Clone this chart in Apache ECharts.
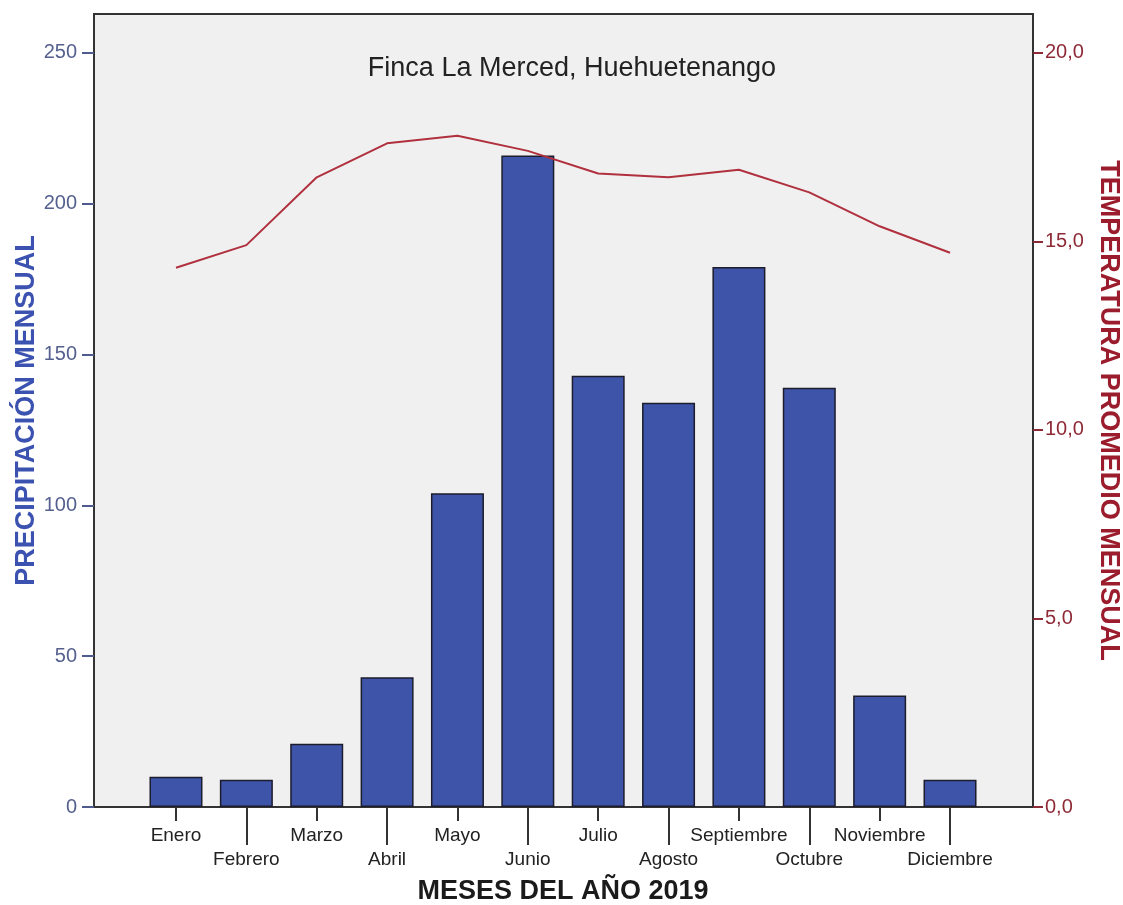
<!DOCTYPE html>
<html>
<head>
<meta charset="utf-8">
<script src="https://cdn.jsdelivr.net/npm/echarts@6/dist/echarts.min.js"></script>
<style>
html,body{margin:0;padding:0;background:#fff;}
#chart{width:1123px;height:905px;}
</style>
</head>
<body>
<div id="chart"></div>
<script>
const months = ['Enero','Febrero','Marzo','Abril','Mayo','Junio','Julio','Agosto','Septiembre','Octubre','Noviembre','Diciembre'];
const precipitation = [10, 9, 21, 43, 104, 216, 143, 134, 179, 139, 37, 9];
const temperature = [14.3, 14.9, 16.7, 17.6, 17.8, 17.4, 16.8, 16.7, 16.9, 16.3, 15.4, 14.7];
const precipTicks = [0, 50, 100, 150, 200, 250];
const tempTicks = [0, 5, 10, 15, 20];

const FONT = 'Liberation Sans, Arial, sans-serif';
const chart = echarts.init(document.getElementById('chart'), null, {renderer: 'canvas'});

const option = {
  backgroundColor: '#ffffff',
  animation: false,
  title: {
    text: 'Finca La Merced, Huehuetenango',
    left: 567, top: 50, textAlign: 'center',
    textStyle: {fontFamily: FONT, fontSize: 27, fontWeight: 'normal', color: '#222'}
  },
  grid: [
    {left: 94, right: 90, top: 14, bottom: 98, show: true, backgroundColor: '#f0f0f0', borderColor: '#333', borderWidth: 2, outerBoundsMode: 'none', containLabel: false},
    {left: 140.8, right: 137.8, top: 14, bottom: 98, outerBoundsMode: 'none', containLabel: false}
  ],
  xAxis: [
    {
      type: 'category', gridIndex: 1, data: months, position: 'bottom',
      axisLine: {show: false},
      axisTick: {show: true, alignWithLabel: true, length: 14, interval: (i) => i % 2 === 0, lineStyle: {color: '#333', width: 2}},
      axisLabel: {interval: (i) => i % 2 === 0, margin: 19, fontFamily: FONT, fontSize: 19, color: '#222'},
      name: 'MESES DEL AÑO 2019', nameLocation: 'middle', nameGap: 71, nameMoveOverlap: false,
      nameTextStyle: {fontFamily: FONT, fontSize: 27, fontWeight: 'bold', color: '#1a1a1a'}
    },
    {
      type: 'category', gridIndex: 1, data: months, position: 'bottom',
      axisLine: {show: false},
      axisTick: {show: true, alignWithLabel: true, length: 38, interval: (i) => i % 2 === 1, lineStyle: {color: '#333', width: 2}},
      axisLabel: {interval: (i) => i % 2 === 1, margin: 43, fontFamily: FONT, fontSize: 19, color: '#222'}
    }
  ],
  yAxis: [
    {
      type: 'value', gridIndex: 1, position: 'left', offset: 46.8,
      min: 0, max: 262.9,
      splitLine: {show: false},
      axisLine: {show: true, lineStyle: {color: '#333', width: 2}},
      axisTick: {show: true, length: 12, customValues: precipTicks, lineStyle: {color: '#4f5b8f', width: 2}},
      axisLabel: {customValues: precipTicks, margin: 17, fontFamily: FONT, fontSize: 20, color: '#55608f'},
      name: 'PRECIPITACIÓN MENSUAL', nameLocation: 'middle', nameRotate: 90, nameGap: 67, nameMoveOverlap: false,
      nameTextStyle: {fontFamily: FONT, fontSize: 27, fontWeight: 'bold', color: '#3c52b0', verticalAlign: 'middle'}
    },
    {
      type: 'value', gridIndex: 1, position: 'right', offset: 47.8,
      min: 0, max: 21.03,
      splitLine: {show: false},
      axisLine: {show: true, lineStyle: {color: '#333', width: 2}},
      axisTick: {show: true, length: 10, customValues: tempTicks, lineStyle: {color: '#8e2a36', width: 2}},
      axisLabel: {customValues: tempTicks, margin: 12, fontFamily: FONT, fontSize: 20, color: '#8e2a36',
        formatter: (v) => v.toFixed(1).replace('.', ',')},
      name: 'TEMPERATURA PROMEDIO MENSUAL', nameLocation: 'middle', nameRotate: -90, nameGap: 75, nameMoveOverlap: false,
      nameTextStyle: {fontFamily: FONT, fontSize: 27, fontWeight: 'bold', color: '#9b1c2c', verticalAlign: 'middle'}
    }
  ],
  series: [
    {
      type: 'bar', xAxisIndex: 0, yAxisIndex: 0, data: precipitation, barWidth: 53,
      itemStyle: {color: '#3e54a9', borderColor: '#1c1c2c', borderWidth: 1.5}
    },
    {
      type: 'line', xAxisIndex: 0, yAxisIndex: 1, data: temperature, showSymbol: false, symbol: 'none',
      lineStyle: {color: '#b0303e', width: 2}
    }
  ]
};
chart.setOption(option);
</script>
</body>
</html>
